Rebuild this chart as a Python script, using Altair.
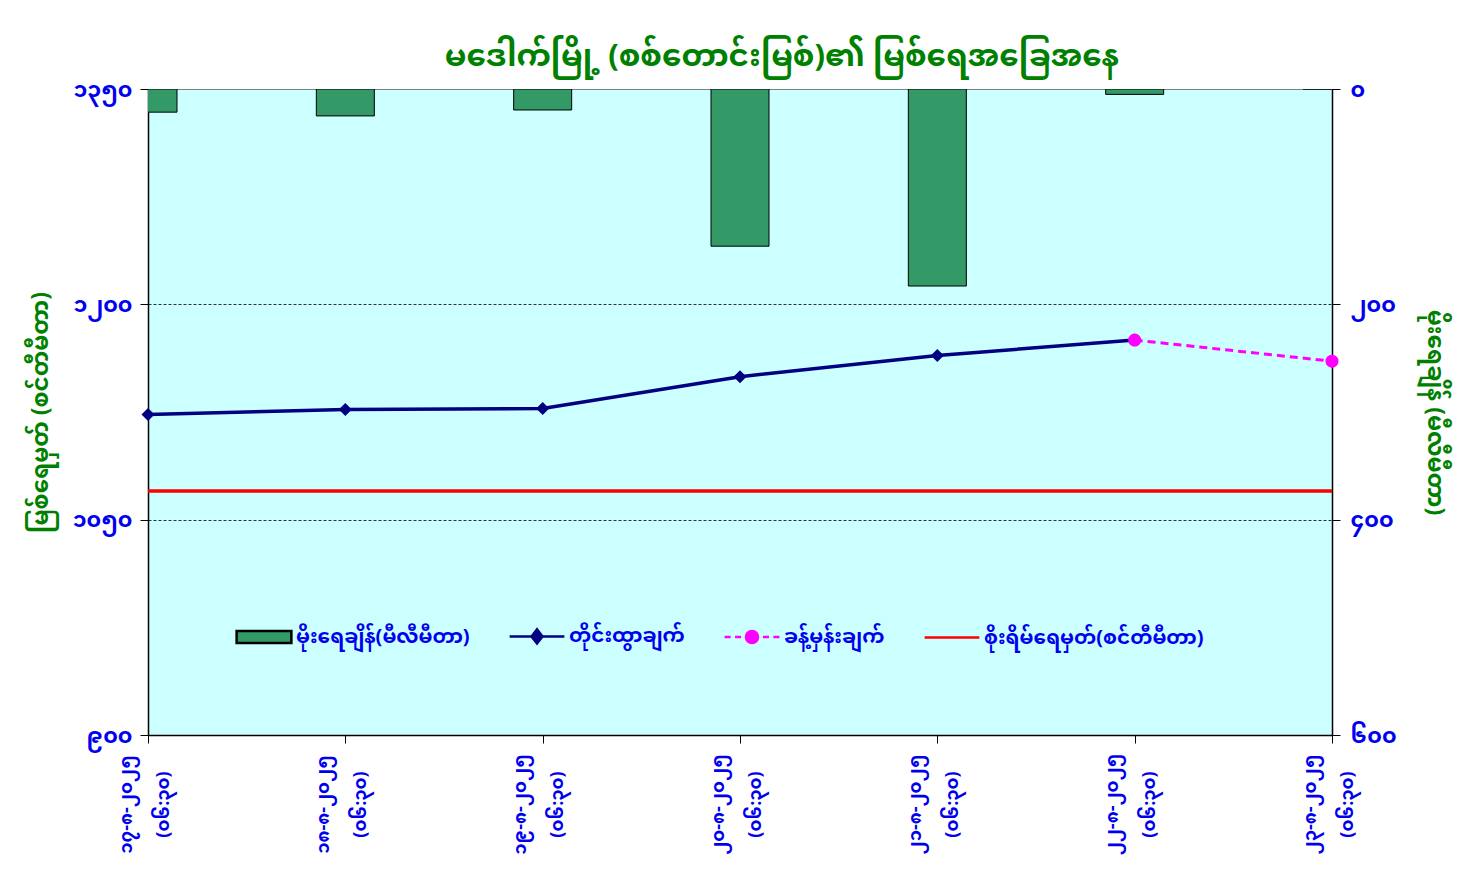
import altair as alt
import pandas as pd

# ---------------- data ----------------
dates = ["၁၇-၈-၂၀၂၅", "၁၈-၈-၂၀၂၅", "၁၉-၈-၂၀၂၅", "၂၀-၈-၂၀၂၅",
         "၂၁-၈-၂၀၂၅", "၂၂-၈-၂၀၂၅", "၂၃-၈-၂၀၂၅"]
times = ["(၀၆:၃၀)"] * 7
rain_mm = [21.5, 25, 19.5, 146, 183, 5, 0]
observed = [1123.3, 1126.7, 1127.4, 1149.6, 1164.4, 1175.1]
forecast_idx = [5, 6]
forecast = [1175.1, 1160.4]
danger_level = [1070]

left_ticks = [900, 1050, 1200, 1350]
right_ticks = [0, 200, 400, 600]

title_text = "မဒေါက်မြို့ (စစ်တောင်းမြစ်)၏ မြစ်ရေအခြေအနေ"
left_title = "မြစ်ရေမှတ် (စင်တီမီတာ)"
right_title = "မိုးရေချိန် (မီလီမီတာ)"
series_names = ["မိုးရေချိန်(မီလီမီတာ)", "တိုင်းထွာချက်", "ခန့်မှန်းချက်",
                "စိုးရိမ်ရေမှတ်(စင်တီမီတာ)"]

# ---------------- helpers ----------------
MM = str.maketrans("0123456789", "၀၁၂၃၄၅၆၇၈၉")


def mm_label_expr(values):
    expr = "''"
    for v in reversed(values):
        expr = f"datum.value == {v} ? '{str(v).translate(MM)}' : ({expr})"
    return expr


cats = [d + "|" + t for d, t in zip(dates, times)]
rain_df = pd.DataFrame({"cat": cats, "rain": rain_mm})
obs_df = pd.DataFrame({"cat": cats[:len(observed)], "level": observed})
fc_df = pd.DataFrame({"cat": [cats[i] for i in forecast_idx], "level": forecast})
danger_df = pd.DataFrame({"level": danger_level})
legend_df = pd.DataFrame({"name": series_names,
                          "cat": [cats[0]] * 4,
                          "level": [observed[0]] * 4})

FONT = "Noto Sans Myanmar, Padauk, Noto Sans, sans-serif"
BLUE = "#0000EE"
GREEN = "#008000"
NAVY = "#000080"
MAGENTA = "#FF00FF"
RED = "#FF0000"
BARGREEN = "#339966"

x_enc = alt.X(
    "cat:N", sort=cats, title=None,
    scale=alt.Scale(type="point", padding=0),
    axis=alt.Axis(labelExpr="split(datum.label, '|')", labelAngle=270,
                  labelAlign="center", labelBaseline="middle",
                  labelPadding=61, labelOffset=-22, labelLineHeight=37,
                  labelFontSize=18, labelFontWeight="bold", labelColor=BLUE,
                  labelFont=FONT, labelOverlap=False, labelLimit=300,
                  tickSize=8, tickColor="black", domainColor="black",
                  domainWidth=1.5, grid=False),
)

edge_test = f"datum.value == {left_ticks[0]} || datum.value == {left_ticks[-1]}"
y_left_scale = alt.Scale(domain=[900, 1350], nice=False, zero=False)
y_left_axis = alt.Axis(
    orient="left", values=left_ticks, labelExpr=mm_label_expr(left_ticks),
    title=left_title, titleColor=GREEN, titleFontSize=23, titleFont=FONT,
    titleFontWeight="bold", titlePadding=20, labelColor=BLUE, labelFontSize=22,
    labelFont=FONT, labelFontWeight="bold", labelPadding=8, tickSize=8,
    tickColor="black", domainColor="black", domainWidth=1.5,
    grid=True, gridColor="black", gridDash=[3, 2], gridWidth=0.8,
    gridOpacity={"condition": {"test": edge_test, "value": 0}, "value": 1},
)

bars = alt.Chart(rain_df).mark_bar(
    size=58, color=BARGREEN, stroke="black", strokeWidth=1, clip=True
).encode(
    x=x_enc,
    y=alt.Y("rain:Q",
            scale=alt.Scale(domain=[0, 600], reverse=True, nice=False),
            axis=alt.Axis(orient="right", values=right_ticks,
                          labelExpr=mm_label_expr(right_ticks),
                          title=right_title, titleAngle=90, titleColor=GREEN,
                          titleFontSize=23, titleFont=FONT,
                          titleFontWeight="bold", titlePadding=26,
                          labelColor=BLUE, labelFontSize=22, labelFont=FONT,
                          labelFontWeight="bold", labelPadding=10, tickSize=8,
                          tickColor="black", domainColor="black",
                          domainWidth=1.5, grid=False)),
)

danger = alt.Chart(danger_df).mark_rule(color=RED, strokeWidth=3.5).encode(
    y=alt.Y("level:Q", scale=y_left_scale, axis=y_left_axis)
)

obs_line = alt.Chart(obs_df).mark_line(
    color=NAVY, strokeWidth=3.5,
    point=alt.OverlayMarkDef(shape="diamond", size=170, color=NAVY, filled=True),
).encode(x=x_enc, y=alt.Y("level:Q", scale=y_left_scale, axis=y_left_axis))

fc_line = alt.Chart(fc_df).mark_line(
    color=MAGENTA, strokeWidth=3, strokeDash=[8, 5],
    point=alt.OverlayMarkDef(shape="circle", size=170, color=MAGENTA, filled=True),
).encode(x=x_enc, y=alt.Y("level:Q", scale=y_left_scale, axis=y_left_axis))

shape_paths = [
    "M-1,-0.22H1V0.22H-1Z",
    "M-1,0H1M-0.2,0L0,-0.26L0.2,0L0,0.26Z",
    "M-1,0H-0.78M-0.62,0H-0.4M0.4,0H0.62M0.78,0H1"
    "M-0.22,0A0.22,0.22 0 1,0 0.22,0A0.22,0.22 0 1,0 -0.22,0Z",
    "M-1,0H1",
]

legend_layer = alt.Chart(legend_df).mark_point(filled=True, opacity=0).encode(
    x=x_enc,
    y=alt.Y("level:Q", scale=y_left_scale, axis=y_left_axis),
    fill=alt.Fill("name:N", sort=series_names,
                  scale=alt.Scale(domain=series_names,
                                  range=[BARGREEN, NAVY, MAGENTA, RED]),
                  legend=alt.Legend(title=None)),
    stroke=alt.Stroke("name:N", sort=series_names,
                      scale=alt.Scale(domain=series_names,
                                      range=["black", NAVY, MAGENTA, RED]),
                      legend=alt.Legend(title=None)),
    shape=alt.Shape("name:N", sort=series_names,
                    scale=alt.Scale(domain=series_names, range=shape_paths),
                    legend=alt.Legend(title=None)),
)

left = alt.layer(danger, obs_line, fc_line, legend_layer)

chart = alt.layer(bars, left).resolve_scale(y="independent").properties(
    width=1184, height=646, background="white",
    title=alt.TitleParams(title_text, fontSize=31, font=FONT, fontWeight="bold",
                          color=GREEN, anchor="middle", dx=42, offset=5),
    autosize=alt.AutoSizeParams(type="none"),
    padding={"left": 140, "top": 81, "right": 130, "bottom": 136},
).configure_view(
    fill="#CCFFFF", stroke="#808080", strokeWidth=1
).configure_legend(
    orient="none", legendX=87, legendY=518, direction="horizontal",
    labelFont=FONT, labelFontSize=20, labelFontWeight="bold", labelColor=BLUE,
    labelLimit=400, labelOffset=3, columnPadding=34, symbolSize=3000,
    symbolStrokeWidth=2.5, symbolOpacity=1, padding=0,
)

chart.save("out.html", embed_options={"renderer": "svg", "actions": False})
